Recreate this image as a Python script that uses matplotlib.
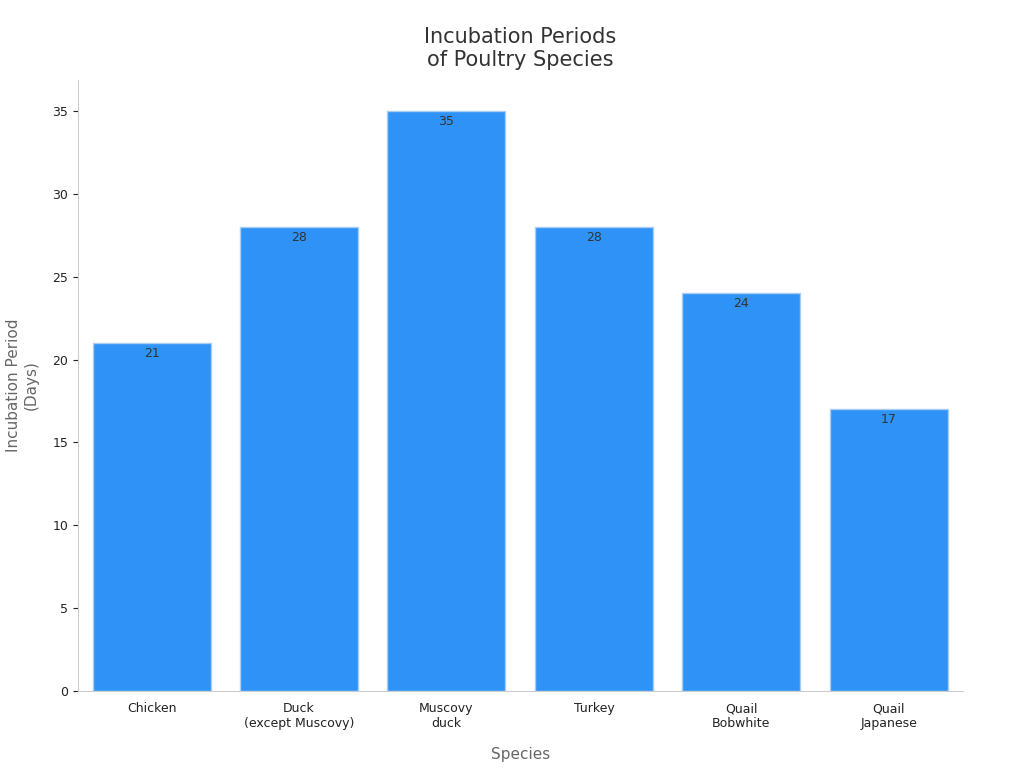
import matplotlib.pyplot as plt

species = ["Chicken", "Duck\n(except Muscovy)", "Muscovy\nduck", "Turkey", "Quail\nBobwhite", "Quail\nJapanese"]
days = [21, 28, 35, 28, 24, 17]

fig = plt.figure(figsize=(10.24, 7.68), dpi=100)
ax = fig.add_axes([0.076, 0.100, 0.864, 0.796])

x = range(len(species))
bars = ax.bar(x, days, width=0.8, color="#2e92f6", edgecolor="#a9cdf5", linewidth=1)
for b, v in zip(bars, days):
    ax.text(b.get_x() + b.get_width() / 2, v - 0.25, str(v), ha="center", va="top",
            fontsize=9, color="#333333")

ax.set_xlim(-0.5, 5.5)
ax.set_ylim(0, 36.87)
ax.set_xticks(list(x))
ax.set_xticklabels(species, fontsize=9, color="#222222")
ax.set_yticks(range(0, 36, 5))
ax.tick_params(axis="y", labelsize=9, colors="#222222")
ax.tick_params(axis="x", length=0, pad=8)
for s in ["top", "right"]:
    ax.spines[s].set_visible(False)
for s in ["left", "bottom"]:
    ax.spines[s].set_color("#cccccc")

ax.set_xlabel("Species", fontsize=11, color="#666666", labelpad=12)
ax.set_ylabel("Incubation Period\n(Days)", fontsize=11, color="#666666", labelpad=10)
ax.set_title("Incubation Periods\nof Poultry Species", fontsize=15, color="#333333", pad=10)

plt.savefig("out.png")
